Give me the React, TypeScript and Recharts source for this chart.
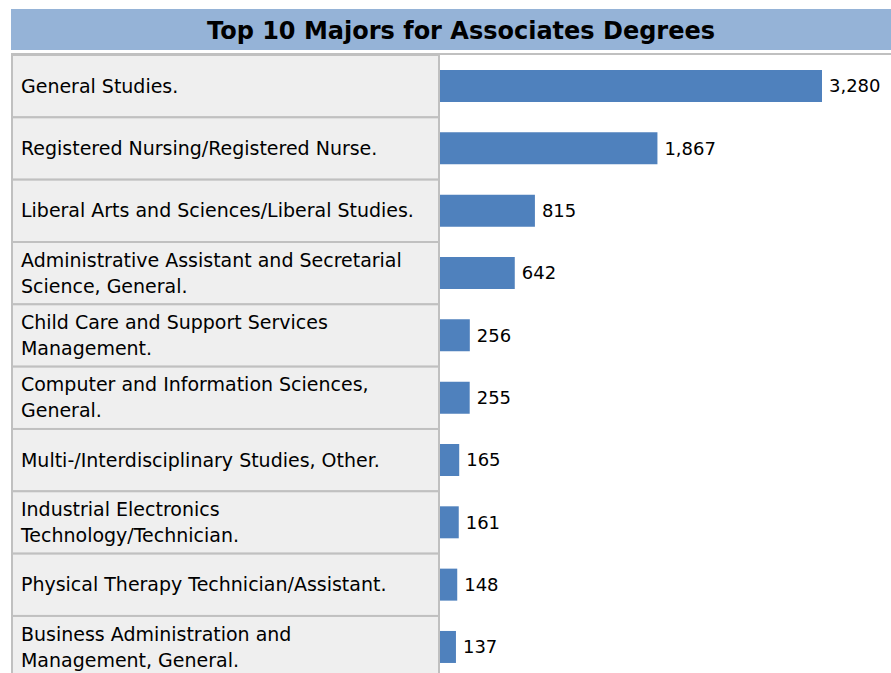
import { Bar, BarChart, LabelList, XAxis, YAxis } from "recharts";

const MAJORS = [
  "General Studies.",
  "Registered Nursing/Registered Nurse.",
  "Liberal Arts and Sciences/Liberal Studies.",
  "Administrative Assistant and Secretarial\nScience, General.",
  "Child Care and Support Services\nManagement.",
  "Computer and Information Sciences,\nGeneral.",
  "Multi-/Interdisciplinary Studies, Other.",
  "Industrial Electronics\nTechnology/Technician.",
  "Physical Therapy Technician/Assistant.",
  "Business Administration and\nManagement, General.",
];

const AWARDS = [3280, 1867, 815, 642, 256, 255, 165, 161, 148, 137];

const TITLE = "Top 10 Majors for Associates Degrees";

const FONT = "'DejaVu Sans', Verdana, sans-serif";
const ROW_H = 62.33;
const TOP = 55;

const data = MAJORS.map((major, i) => ({ major, total: AWARDS[i] }));

function MajorTick(props: any) {
  const { y, payload } = props;
  const lines: string[] = String(payload.value).split("\n");
  const start = lines.length === 1 ? 0 : -13;
  return (
    <g>
      <rect x={12} y={y - ROW_H / 2} width={427} height={ROW_H} fill="#efefef" stroke="#c0c0c0" strokeWidth={2} />
      {lines.map((ln, i) => (
        <text
          key={i}
          x={21}
          y={y + start + i * 26}
          dy="0.35em"
          fontSize={19}
          fontFamily={FONT}
          fill="#000"
          textAnchor="start"
        >
          {ln}
        </text>
      ))}
    </g>
  );
}

export default function App() {
  return (
    <div style={{ position: "fixed", left: 0, top: 0, width: 891, height: 673, overflow: "hidden", background: "#fff" }}>
      <div
        style={{
          position: "absolute",
          left: 11,
          top: 9,
          width: 880,
          height: 41,
          background: "#95b3d7",
          zIndex: 2,
        }}
      >
        <div
          style={{
            position: "absolute",
            left: 0,
            width: 900,
            top: 1,
            lineHeight: "43px",
            textAlign: "center",
            fontFamily: FONT,
            fontWeight: "bold",
            fontSize: 24,
            color: "#000",
          }}
        >
          {TITLE}
        </div>
      </div>
      <div style={{ position: "absolute", left: 11, top: 53, width: 880, height: 2, background: "#c0c0c0", zIndex: 2 }} />
      <BarChart
        width={891}
        height={TOP + ROW_H * 10}
        data={data}
        layout="vertical"
        margin={{ top: TOP, right: 69, bottom: 0, left: 0 }}
        barCategoryGap={0}
      >
        <XAxis type="number" domain={[0, 3280]} hide />
        <YAxis
          type="category"
          dataKey="major"
          width={440}
          axisLine={false}
          tickLine={false}
          tick={<MajorTick />}
          interval={0}
        />
        <Bar dataKey="total" fill="#4f81bd" barSize={32} isAnimationActive={false}>
          <LabelList
            dataKey="total"
            position="right"
            offset={7}
            formatter={(v: any) => Number(v).toLocaleString("en-US")}
            style={{ fontSize: 18, fontFamily: FONT, fill: "#000" }}
          />
        </Bar>
      </BarChart>
    </div>
  );
}
